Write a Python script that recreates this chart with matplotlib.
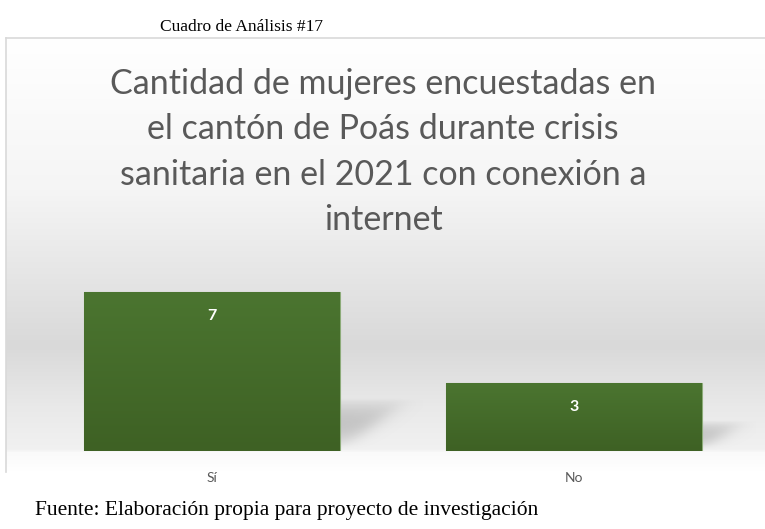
import numpy as np
import matplotlib.pyplot as plt
from matplotlib.colors import LinearSegmentedColormap

# datos
categorias = ["Sí", "No"]
valores = [7, 3]
titulo = "Cantidad de mujeres encuestadas en\nel cantón de Poás durante crisis\nsanitaria en el 2021 con conexión a\ninternet"
encabezado = "Cuadro de Análisis #17"
fuente = "Fuente: Elaboración propia para proyecto de investigación"

W, H = 765, 529
fig = plt.figure(figsize=(W / 100, H / 100), dpi=100)
fig.patch.set_facecolor("white")

def fx(px):
    return px / W

def fy(py):
    return 1 - py / H

# fondo del grafico con degradado
bg = fig.add_axes([fx(6), fy(472), 1 - fx(6), fy(38) - fy(472)], zorder=0)
grad_cmap = LinearSegmentedColormap.from_list(
    "fondo",
    [(0.0, "#ffffff"), (0.35, "#f5f5f5"), (0.71, "#d9d9d9"), (0.85, "#e9e9e9"),
     (0.951, "#f1f1f1"), (0.956, "#fafafa"), (1.0, "#ffffff")])
grad = np.linspace(0, 1, 512).reshape(-1, 1)
bg.imshow(grad, aspect="auto", cmap=grad_cmap, extent=[0, 1, 1, 0], interpolation="bilinear")
bg.set_xlim(0, 1)
bg.set_ylim(1, 0)
bg.set_xticks([])
bg.set_yticks([])
for s in ["right", "bottom"]:
    bg.spines[s].set_visible(False)
for s in ["top", "left"]:
    bg.spines[s].set_color("#d9d9d9")
    bg.spines[s].set_linewidth(1.2)

# ejes principales
ax = fig.add_axes([fx(31), fy(451), fx(755) - fx(31), fy(269) - fy(451)], zorder=1)
ax.patch.set_alpha(0)
ax.set_xlim(-0.5, len(categorias) - 0.5)
ax.set_ylim(0, 8)
x = np.arange(len(categorias))
ancho = 0.707
bar_cmap = LinearSegmentedColormap.from_list("barra", ["#3e6124", "#4b7530"])
bars = ax.bar(x, valores, width=ancho, color="#46702c", edgecolor="#8cab78", linewidth=0.8, zorder=3)

for b in bars:
    x0, y0 = b.get_x(), b.get_y()
    w, h = b.get_width(), b.get_height()
    im = ax.imshow(np.linspace(0, 1, 100).reshape(-1, 1), cmap=bar_cmap, aspect="auto",
                   extent=[x0, x0 + w, y0, y0 + h], origin="lower", zorder=3.5)
    im.set_clip_path(b)
    # sombra difusa en diagonal
    sh = 0.5 + 0.19 * h
    dx = 0.08 * sh
    xr = x0 + w
    gx = np.linspace(xr - 0.02, xr + dx + 0.08, 120)
    gy = np.linspace(0, sh + 0.6, 120)
    GX, GY = np.meshgrid(gx, gy)
    borde = xr + dx * GY / sh
    dist = (borde - GX) * 362  # en pixeles
    m = 1 / (1 + np.exp(-dist / 7))
    t = np.clip(GY / sh, 0, 1.6)
    fade = np.sin(np.pi * np.clip(t / 1.25, 0, 1)) ** 0.8
    fade *= 1 / (1 + np.exp(-(GY * 22.75 - 2) / 2))
    alpha = 0.32 * m * fade
    rgba = np.zeros(GX.shape + (4,))
    rgba[..., :3] = 0.45
    rgba[..., 3] = alpha
    ax.imshow(rgba, extent=[gx[0], gx[-1], gy[0], gy[-1]], origin="lower", aspect="auto",
              zorder=2, interpolation="bilinear")

ax.set_xlim(-0.5, len(categorias) - 0.5)
ax.set_ylim(0, 8)

for xi, v in zip(x, valores):
    ax.text(xi, v - 1.08, str(v), ha="center", va="center", color="white",
            fontsize=11.5, fontweight="bold", family="Lato", zorder=5)

ax.set_xticks(x)
ax.set_xticklabels(categorias, fontsize=10, color="#595959", family="Lato")
ax.tick_params(axis="x", length=0, pad=15)
ax.set_yticks([])
for s in ax.spines.values():
    s.set_visible(False)

# titulo
fig.text(fx(383), fy(152), titulo, ha="center", va="center", fontsize=24.5, color="#595959",
         family="Lato", linespacing=1.52)

# textos fuera del grafico
fig.text(fx(241), fy(27), encabezado, ha="center", va="center", fontsize=12.5,
         family="Liberation Serif", color="black")
fig.text(fx(35), fy(511), fuente, ha="left", va="center", fontsize=15.5,
         family="Liberation Serif", color="black")

fig.savefig("out.png", dpi=100)
